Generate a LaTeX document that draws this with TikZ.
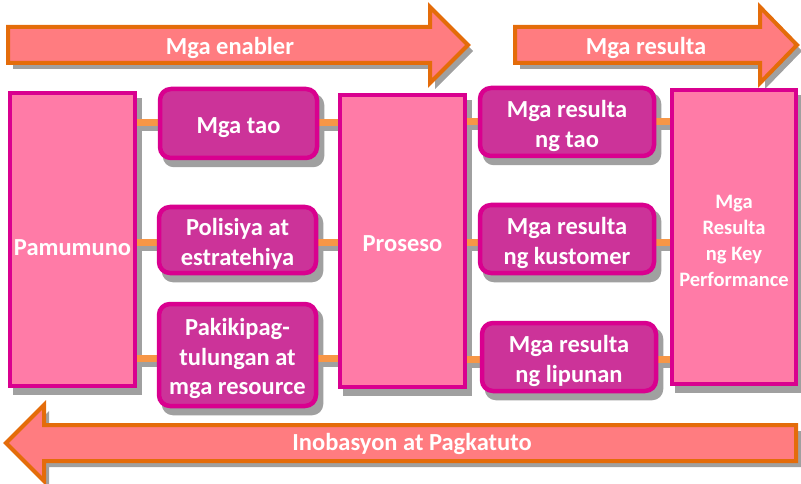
\documentclass[tikz,border=0pt]{standalone}
\usepackage{fontspec}
\setmainfont{Carlito}
\usetikzlibrary{calc,backgrounds}
\pgfdeclarelayer{shadowlayer}
\pgfsetlayers{shadowlayer,background,main}
\definecolor{arrowfill}{HTML}{FF7C80}
\definecolor{arrowborder}{HTML}{E46C0A}
\definecolor{bigfill}{HTML}{FF7BA7}
\definecolor{boxborder}{HTML}{D9008F}
\definecolor{smallfill}{HTML}{CC3399}
\definecolor{connorange}{HTML}{F79646}
\definecolor{shadowgray}{HTML}{A0A0A0}
\newcommand{\topstrut}{\rule{0pt}{25pt}}
\tikzset{
  x=1pt, y=1pt,
  txt/.style={text=white, font=\bfseries\fontsize{24.5}{29.5}\selectfont, align=center},
  bigbox/.style={txt, draw=boxborder, fill=bigfill, line width=4pt, inner sep=0pt},
  smallbox/.style={txt, draw=boxborder, fill=smallfill, line width=4.5pt, rounded corners=11pt, inner sep=0pt},
  bigarrow/.style={draw=arrowborder, fill=arrowfill, line width=4pt, line join=miter},
  arrowshadow/.style={fill=shadowgray},
  conn/.style={draw=connorange, line width=7pt},
  connshadow/.style={draw=shadowgray, line width=7pt},
}
\begin{document}
\begin{tikzpicture}
\useasboundingbox (0,0) rectangle (801,-484);

% ---- big arrows ----
\fill[arrowshadow, shift={(5,-6)}] (8,-27) -- (430,-27) -- (430,-7) -- (468,-45) -- (430,-83) -- (430,-63) -- (8,-63) -- cycle;
\draw[bigarrow] (8,-27) -- (430,-27) -- (430,-7) -- (468,-45) -- (430,-83) -- (430,-63) -- (8,-63) -- cycle;
\node[txt] (enabler) at (230,-48) {Mga enabler};

\fill[arrowshadow, shift={(5,-6)}] (515,-27) -- (760,-27) -- (760,-7) -- (797,-45) -- (760,-83) -- (760,-63) -- (515,-63) -- cycle;
\draw[bigarrow] (515,-27) -- (760,-27) -- (760,-7) -- (797,-45) -- (760,-83) -- (760,-63) -- (515,-63) -- cycle;
\node[txt] (resulta) at (646,-48) {Mga resulta};

\fill[arrowshadow, shift={(5,-6)}] (796,-425) -- (44,-425) -- (44,-405) -- (6,-443) -- (44,-481) -- (44,-461) -- (796,-461) -- cycle;
\draw[bigarrow] (796,-425) -- (44,-425) -- (44,-405) -- (6,-443) -- (44,-481) -- (44,-461) -- (796,-461) -- cycle;
\node[txt] (inob) at (412,-444) {Inobasyon at Pagkatuto};

% ---- boxes ----
\node[bigbox, minimum width=125pt, minimum height=293pt] (pam) at (72.5,-239.5) {};
\node[txt] (pamtxt) at (72.5,-248) {Pamumuno};
\node[smallbox, minimum width=157pt, minimum height=69pt] (tao) at (238.5,-123.5) {\topstrut Mga tao};
\node[smallbox, minimum width=157pt, minimum height=66pt] (pol) at (237.5,-240) {\topstrut Polisiya at\\estratehiya};
\node[smallbox, minimum width=157pt, minimum height=102pt] (pak) at (237.5,-355) {\topstrut Pakikipag-\\tulungan at\\mga resource};
\node[bigbox, minimum width=125pt, minimum height=292pt] (pro) at (402.5,-241) {\rule{0pt}{21pt}Proseso};
\node[smallbox, minimum width=174pt, minimum height=68pt] (rt) at (567,-122) {\topstrut Mga resulta\\ng tao};
\node[smallbox, minimum width=174pt, minimum height=68pt] (rk) at (567,-239) {\topstrut Mga resulta\\ng kustomer};
\node[smallbox, minimum width=174pt, minimum height=68pt] (rl) at (569,-357) {\topstrut Mga resulta\\ng lipunan};
\node[bigbox, minimum width=124pt, minimum height=294pt, font=\bfseries\fontsize{20.5}{26}\selectfont] (kpr) at (734,-237) {\rule{0pt}{22pt}Mga\\Resulta\\ng Key\\Performance};

% ---- shadows ----
\begin{pgfonlayer}{shadowlayer}
\foreach \n in {pam,pro,kpr}
  \fill[shadowgray] ($(\n.south west)+(5,-7)$) rectangle ($(\n.north east)+(5,-7)$);
\foreach \n in {tao,pol,pak,rt,rk,rl}
  \fill[shadowgray, rounded corners=11pt] ($(\n.south west)+(5,-7)$) rectangle ($(\n.north east)+(5,-7)$);
\end{pgfonlayer}

% ---- connectors ----
\begin{scope}[on background layer]
\foreach \a/\b/\y in {pam/tao/-123, pam/pol/-242, pam/pak/-358, tao/pro/-123, pol/pro/-242, pak/pro/-358,
                      pro/rt/-122, pro/rk/-242, pro/rl/-359, rt/kpr/-122, rk/kpr/-242, rl/kpr/-359} {
  \draw[connshadow] ($(\a.east |- 0,\y)+(3,-5)$) -- ($(\b.west |- 0,\y)+(3,-5)$);
  \draw[conn] (\a.east |- 0,\y) -- (\b.west |- 0,\y);
}
\end{scope}
\end{tikzpicture}
\end{document}
